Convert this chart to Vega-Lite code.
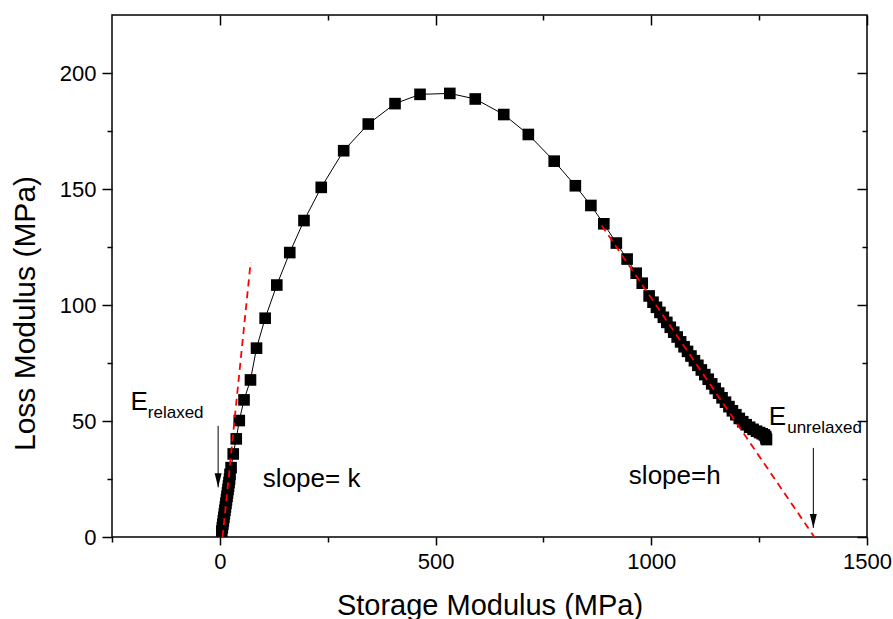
{
  "$schema": "https://vega.github.io/schema/vega-lite/v6.json",
  "width": 755,
  "height": 522,
  "autosize": {"type": "none"},
  "padding": {"left": 112, "top": 15, "right": 26, "bottom": 82},
  "config": {
    "view": {"stroke": "black", "strokeWidth": 1.5},
    "font": "Liberation Sans",
    "axis": {"grid": false, "domain": false, "tickColor": "black", "tickWidth": 1.5, "labelColor": "black", "labelFont": "Liberation Sans", "titleFont": "Liberation Sans", "titleFontWeight": "normal", "titleColor": "black", "labelFlush": false, "labelOverlap": false}
  },
  "datasets": {
    "main": [
      {"seq": 1, "x": 4.5, "y": 2.5}, {"seq": 2, "x": 5.7, "y": 4}, {"seq": 3, "x": 6.9, "y": 5.5}, {"seq": 4, "x": 8.1, "y": 7},
      {"seq": 5, "x": 9.3, "y": 8.5}, {"seq": 6, "x": 10.5, "y": 10}, {"seq": 7, "x": 11.7, "y": 11.5}, {"seq": 8, "x": 12.9, "y": 13},
      {"seq": 9, "x": 14.1, "y": 14.5}, {"seq": 10, "x": 15.3, "y": 16}, {"seq": 11, "x": 16.5, "y": 17.5}, {"seq": 12, "x": 17.7, "y": 19},
      {"seq": 13, "x": 18.9, "y": 20.5}, {"seq": 14, "x": 20.1, "y": 22}, {"seq": 15, "x": 21.3, "y": 23.5}, {"seq": 16, "x": 22.5, "y": 25},
      {"seq": 17, "x": 23.5, "y": 27}, {"seq": 18, "x": 26, "y": 29.9}, {"seq": 19, "x": 31, "y": 35.8}, {"seq": 20, "x": 38, "y": 42.3},
      {"seq": 21, "x": 45, "y": 50.2}, {"seq": 22, "x": 56, "y": 59.1}, {"seq": 23, "x": 71, "y": 67.7}, {"seq": 24, "x": 85, "y": 81.4},
      {"seq": 25, "x": 105, "y": 94.3}, {"seq": 26, "x": 132, "y": 108.6}, {"seq": 27, "x": 162, "y": 122.6}, {"seq": 28, "x": 195, "y": 136.4},
      {"seq": 29, "x": 235, "y": 150.7}, {"seq": 30, "x": 287, "y": 166.5}, {"seq": 31, "x": 344, "y": 178}, {"seq": 32, "x": 406, "y": 186.8},
      {"seq": 33, "x": 464, "y": 190.8}, {"seq": 34, "x": 533, "y": 191.2}, {"seq": 35, "x": 592, "y": 188.8}, {"seq": 36, "x": 658, "y": 182.1},
      {"seq": 37, "x": 715, "y": 173.5}, {"seq": 38, "x": 775, "y": 162}, {"seq": 39, "x": 824, "y": 151.4}, {"seq": 40, "x": 860, "y": 142.9},
      {"seq": 41, "x": 890, "y": 135}, {"seq": 42, "x": 919, "y": 126.7}, {"seq": 43, "x": 944, "y": 119.8}, {"seq": 44, "x": 965, "y": 113.7},
      {"seq": 45, "x": 979, "y": 109.4}, {"seq": 46, "x": 995, "y": 103.9}, {"seq": 47, "x": 1004, "y": 101.2}, {"seq": 48, "x": 1012, "y": 99},
      {"seq": 49, "x": 1020, "y": 96.8}, {"seq": 50, "x": 1028, "y": 94.7}, {"seq": 51, "x": 1036, "y": 92.5}, {"seq": 52, "x": 1044, "y": 90.4},
      {"seq": 53, "x": 1052, "y": 88.3}, {"seq": 54, "x": 1060, "y": 86.2}, {"seq": 55, "x": 1068, "y": 84.1}, {"seq": 56, "x": 1076, "y": 82},
      {"seq": 57, "x": 1084, "y": 80}, {"seq": 58, "x": 1092, "y": 78}, {"seq": 59, "x": 1100, "y": 76}, {"seq": 60, "x": 1108, "y": 74},
      {"seq": 61, "x": 1116, "y": 72}, {"seq": 62, "x": 1124, "y": 70}, {"seq": 63, "x": 1132, "y": 68}, {"seq": 64, "x": 1140, "y": 66},
      {"seq": 65, "x": 1148, "y": 64}, {"seq": 66, "x": 1156, "y": 62}, {"seq": 67, "x": 1164, "y": 60}, {"seq": 68, "x": 1172, "y": 58.1},
      {"seq": 69, "x": 1180, "y": 56.2}, {"seq": 70, "x": 1188, "y": 54.4}, {"seq": 71, "x": 1196, "y": 52.7}, {"seq": 72, "x": 1204, "y": 51.1},
      {"seq": 73, "x": 1212, "y": 49.7}, {"seq": 74, "x": 1220, "y": 48.4}, {"seq": 75, "x": 1228, "y": 47.3}, {"seq": 76, "x": 1236, "y": 46.4},
      {"seq": 77, "x": 1244, "y": 45.6}, {"seq": 78, "x": 1251, "y": 45}, {"seq": 79, "x": 1257, "y": 44.5}, {"seq": 80, "x": 1262, "y": 44},
      {"seq": 81, "x": 1265, "y": 43.3}, {"seq": 82, "x": 1266, "y": 42.5}, {"seq": 83, "x": 1267, "y": 42}
    ],
    "fits": [
      {"seg": "k", "x": 6.3, "y": 0}, {"seg": "k", "x": 71.4, "y": 118.5},
      {"seg": "h", "x": 885, "y": 134.3}, {"seg": "h", "x": 1378, "y": 0}
    ],
    "arrows": [
      {"x": -4, "ytop": 47.9, "ytip": 21.4},
      {"x": 1375.6, "ytop": 38.4, "ytip": 3.9}
    ],
    "bigtext": [
      {"label": "E", "x": -207, "y": 54.8},
      {"label": "slope= k", "x": 99.7, "y": 21.6},
      {"label": "slope=h", "x": 948, "y": 22.9},
      {"label": "E", "x": 1272, "y": 48.3}
    ],
    "smalltext": [
      {"label": "relaxed", "x": -167, "y": 51.3},
      {"label": "unrelaxed", "x": 1315, "y": 44.9}
    ]
  },
  "resolve": {"axis": {"x": "independent", "y": "independent"}},
  "layer": [
    {
      "data": {"name": "main"},
      "mark": {"type": "line", "color": "black", "strokeWidth": 1},
      "encoding": {
        "x": {"field": "x", "type": "quantitative", "scale": {"domain": [-250, 1500], "nice": false, "zero": false},
          "axis": {"orient": "bottom", "values": [0, 500, 1000, 1500], "tickSize": 8, "labelFontSize": 22, "labelPadding": 6, "format": "d", "title": "Storage Modulus (MPa)", "titleFontSize": 29, "titleY": 77, "titleBaseline": "alphabetic"}},
        "y": {"field": "y", "type": "quantitative", "scale": {"domain": [0, 225], "nice": false, "zero": false},
          "axis": {"orient": "left", "values": [0, 50, 100, 150, 200], "tickSize": 10, "labelFontSize": 22, "labelPadding": 6, "format": "d", "title": "Loss Modulus (MPa)", "titleFontSize": 30, "titleX": -78, "titleY": 298, "titleAngle": -90, "titleBaseline": "alphabetic", "titleAlign": "center"}},
        "order": {"field": "seq", "type": "quantitative"}
      }
    },
    {
      "data": {"name": "main"},
      "mark": {"type": "point", "shape": "square", "filled": true, "color": "black", "size": 135, "opacity": 1},
      "encoding": {
        "x": {"field": "x", "type": "quantitative", "scale": {"domain": [-250, 1500], "nice": false, "zero": false},
          "axis": {"orient": "bottom", "values": [-250, 250, 750, 1250], "tickSize": 5, "labels": false, "title": null}},
        "y": {"field": "y", "type": "quantitative", "scale": {"domain": [0, 225], "nice": false, "zero": false},
          "axis": {"orient": "left", "values": [25, 75, 125, 175], "tickSize": 5, "labels": false, "title": null}}
      }
    },
    {
      "data": {"name": "fits"},
      "mark": {"type": "line", "color": "#ff0000", "strokeWidth": 1.8, "strokeDash": [7, 5]},
      "encoding": {
        "x": {"field": "x", "type": "quantitative", "scale": {"domain": [-250, 1500], "nice": false, "zero": false},
          "axis": {"orient": "top", "values": [0, 500, 1000, 1500], "tickSize": -10, "labels": false, "title": null}},
        "y": {"field": "y", "type": "quantitative", "scale": {"domain": [0, 225], "nice": false, "zero": false},
          "axis": {"orient": "right", "values": [0, 50, 100, 150, 200], "tickSize": -10, "labels": false, "title": null}},
        "detail": {"field": "seg", "type": "nominal"}
      }
    },
    {
      "data": {"name": "arrows"},
      "mark": {"type": "rule", "color": "black", "strokeWidth": 1},
      "encoding": {
        "x": {"field": "x", "type": "quantitative", "scale": {"domain": [-250, 1500], "nice": false, "zero": false},
          "axis": {"orient": "top", "values": [250, 750, 1250], "tickSize": -5, "labels": false, "title": null}},
        "y": {"field": "ytop", "type": "quantitative", "scale": {"domain": [0, 225], "nice": false, "zero": false},
          "axis": {"orient": "right", "values": [25, 75, 125, 175], "tickSize": -5, "labels": false, "title": null}},
        "y2": {"field": "ytip"}
      }
    },
    {
      "data": {"name": "arrows"},
      "mark": {"type": "point", "shape": "M-0.5,-2L0.5,-2L0,0Z", "filled": true, "color": "black", "size": 196, "opacity": 1, "strokeWidth": 0},
      "encoding": {
        "x": {"field": "x", "type": "quantitative", "scale": {"domain": [-250, 1500], "nice": false, "zero": false}, "axis": null},
        "y": {"field": "ytip", "type": "quantitative", "scale": {"domain": [0, 225], "nice": false, "zero": false}, "axis": null}
      }
    },
    {
      "data": {"name": "bigtext"},
      "mark": {"type": "text", "align": "left", "baseline": "alphabetic", "fontSize": 26, "color": "black", "font": "Liberation Sans"},
      "encoding": {
        "x": {"field": "x", "type": "quantitative", "scale": {"domain": [-250, 1500], "nice": false, "zero": false}, "axis": null},
        "y": {"field": "y", "type": "quantitative", "scale": {"domain": [0, 225], "nice": false, "zero": false}, "axis": null},
        "text": {"field": "label"}
      }
    },
    {
      "data": {"name": "smalltext"},
      "mark": {"type": "text", "align": "left", "baseline": "alphabetic", "fontSize": 17, "color": "black", "font": "Liberation Sans"},
      "encoding": {
        "x": {"field": "x", "type": "quantitative", "scale": {"domain": [-250, 1500], "nice": false, "zero": false}, "axis": null},
        "y": {"field": "y", "type": "quantitative", "scale": {"domain": [0, 225], "nice": false, "zero": false}, "axis": null},
        "text": {"field": "label"}
      }
    }
  ]
}
